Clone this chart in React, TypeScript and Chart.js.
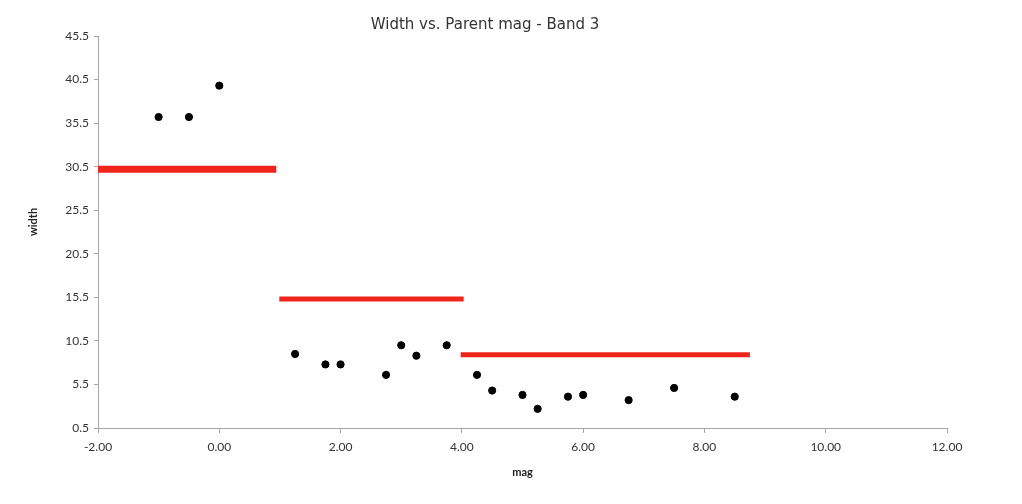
import React, { useEffect, useRef } from "react";
import { Chart, registerables } from "chart.js";

Chart.register(...registerables);

const magValues = [-1, -0.5, 0, 1.25, 1.75, 2.0, 2.75, 3.0, 3.25, 3.75, 4.25, 4.5, 5.0, 5.25, 5.75, 6.0, 6.75, 7.5, 8.5];
const widthValues = [36.2, 36.2, 39.8, 9.0, 7.8, 7.8, 6.6, 10.0, 8.8, 10.0, 6.6, 4.8, 4.3, 2.7, 4.1, 4.3, 3.7, 5.1, 4.1];

const bandStarts = [-2, 0.99, 3.98];
const bandEnds = [0.94, 4.03, 8.75];
const bandLevels = [30.2, 15.3, 8.9];
const bandWidths = [7, 5, 5];

const yTicks = [0.5, 5.5, 10.5, 15.5, 20.5, 25.5, 30.5, 35.5, 40.5, 45.5];
const xTicks = [-2, 0, 2, 4, 6, 8, 10, 12];

const titleText = "Width vs. Parent mag - Band 3";
const xTitle = "mag";
const yTitle = "width";

export default function App() {
  const ref = useRef<HTMLCanvasElement | null>(null);

  useEffect(() => {
    document.body.style.margin = "0";
    const canvas = ref.current;
    if (!canvas) return;

    const bandSets = bandStarts.map((s, i) => ({
      type: "line" as const,
      data: [
        { x: s, y: bandLevels[i] },
        { x: bandEnds[i], y: bandLevels[i] },
      ],
      borderColor: "rgb(240,36,26)",
      backgroundColor: "rgb(240,36,26)",
      borderWidth: bandWidths[i],
      borderCapStyle: "butt" as const,
      pointRadius: 0,
      fill: false,
    }));

    const textPlugin = {
      id: "texts",
      afterDraw(chart: any) {
        const ctx = chart.ctx;
        const area = chart.chartArea;
        ctx.save();
        ctx.fillStyle = "#333333";
        ctx.font = "15px 'DejaVu Sans'";
        ctx.textAlign = "center";
        ctx.textBaseline = "middle";
        ctx.fillText(titleText, 485, 25);
        ctx.fillStyle = "#222222";
        ctx.font = "bold 11px Lato";
        ctx.fillText(xTitle, (area.left + area.right) / 2, 472);
        ctx.translate(33, (area.top + area.bottom) / 2 - 10);
        ctx.rotate(-Math.PI / 2);
        ctx.fillText(yTitle, 0, 0);
        ctx.restore();
      },
    };

    const chart = new Chart(canvas, {
      type: "scatter",
      data: {
        datasets: [
          {
            type: "scatter",
            data: magValues.map((x, i) => ({ x, y: widthValues[i] })),
            backgroundColor: "#000000",
            borderColor: "#000000",
            pointRadius: 3.6,
            pointHoverRadius: 3.6,
          },
          ...bandSets,
        ] as any,
      },
      options: {
        animation: false,
        responsive: false,
        maintainAspectRatio: false,
        layout: { padding: { top: 36, right: 75, left: 0, bottom: 0 } },
        plugins: {
          legend: { display: false },
          title: { display: false },
          tooltip: { enabled: false },
        },
        scales: {
          x: {
            type: "linear",
            min: -2,
            max: 12,
            afterBuildTicks: (scale: any) => {
              scale.ticks = xTicks.map((v) => ({ value: v }));
            },
            afterFit: (scale: any) => {
              scale.height = 76;
            },
            border: { display: true, color: "#a6a6a6", width: 1 },
            grid: {
              display: true,
              drawOnChartArea: false,
              drawTicks: true,
              tickLength: 5,
              color: "#a6a6a6",
            },
            ticks: {
              color: "#333333",
              font: { family: "Lato", size: 12 },
              padding: 7,
              maxRotation: 0,
              callback: (v: any) => Number(v).toFixed(2),
            },
          },
          y: {
            type: "linear",
            min: 0.5,
            max: 45.5,
            afterBuildTicks: (scale: any) => {
              scale.ticks = yTicks.map((v) => ({ value: v }));
            },
            afterFit: (scale: any) => {
              scale.width = 98;
            },
            border: { display: true, color: "#a6a6a6", width: 1 },
            grid: {
              display: true,
              drawOnChartArea: false,
              drawTicks: true,
              tickLength: 4,
              color: "#a6a6a6",
            },
            ticks: {
              color: "#333333",
              font: { family: "Lato", size: 12 },
              padding: 5,
              callback: (v: any) => Number(v).toFixed(1),
            },
          },
        },
      },
      plugins: [textPlugin],
    });

    return () => chart.destroy();
  }, []);

  return (
    <div style={{ position: "relative", width: 1022, height: 504, background: "#ffffff" }}>
      <canvas ref={ref} width={1022} height={504} style={{ display: "block" }} />
    </div>
  );
}
